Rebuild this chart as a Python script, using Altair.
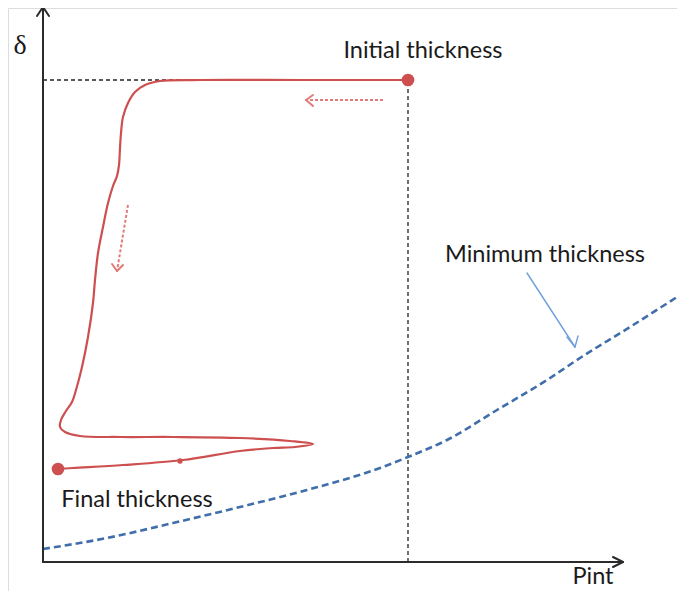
import altair as alt
import pandas as pd

# ---- data (units: δ vs Pint, arbitrary) ----
red_x = [365, 257, 157, 117, 102, 92, 85, 80, 78, 77, 76, 74, 70, 65, 60, 55, 52, 50, 45, 39, 33, 29, 23, 18, 17, 22, 37, 77, 130, 197, 247, 270, 252, 230, 197, 140, 80, 30, 15]
red_y = [482, 482, 482, 481, 477, 470, 459, 445, 429, 414, 397, 386, 376, 359, 335, 309, 282, 259, 225, 195, 172, 160, 151, 142, 135, 130, 126, 125, 125, 124, 121, 118, 115, 114, 111, 102, 97, 94, 93]

min_x = [0, 64, 130, 197, 264, 337, 365, 404, 454, 504, 537, 587, 634]
min_y = [13, 24, 39, 55, 72, 94, 105, 122, 152, 182, 204, 235, 265]

init_pt = (365, 482)
final_pt = (15, 93)

label_text = ["Initial thickness", "Final thickness", "Minimum thickness"]
label_x = [380, 94, 502]
label_y = [504, 55, 300]

XMIN, XMAX = -35, 634
YMIN, YMAX = -29, 554
W, H = XMAX - XMIN, YMAX - YMIN

xs = alt.Scale(domain=[XMIN, XMAX], nice=False, zero=False)
ys = alt.Scale(domain=[YMIN, YMAX], nice=False, zero=False)


def segs(rows):
    return pd.DataFrame(rows, columns=["x", "y", "x2", "y2"])


def rule_layer(df, color, width, dash=None):
    kw = dict(color=color, strokeWidth=width, strokeCap="round")
    if dash:
        kw["strokeDash"] = dash
        kw["strokeCap"] = "butt"
    return alt.Chart(df).mark_rule(**kw).encode(
        x=alt.X("x:Q", scale=xs, axis=None),
        y=alt.Y("y:Q", scale=ys, axis=None),
        x2="x2:Q", y2="y2:Q")


# axes with arrowheads
axes = rule_layer(segs([
    [0, 0, 0, 555], [0, 0, 580, 0],
    [0, 555, -6, 546], [0, 555, 6, 546],
    [580, 0, 570, 5], [580, 0, 570, -5],
]), "#2b2b2b", 2)

# dashed reference lines
ref = rule_layer(segs([[0, init_pt[1], init_pt[0], init_pt[1]],
                       [init_pt[0], 0, init_pt[0], init_pt[1]]]), "#222222", 1.3, [4, 3])

# minimum thickness dashed curve
mdf = pd.DataFrame({"x": min_x, "y": min_y})
minline = alt.Chart(mdf).mark_line(color="#3f6eab", strokeWidth=2.6, strokeDash=[7, 4],
                                   interpolate="monotone", clip=True).encode(
    x=alt.X("x:Q", scale=xs, axis=None), y=alt.Y("y:Q", scale=ys, axis=None))

# red trajectory
rdf = pd.DataFrame({"x": red_x, "y": red_y, "o": list(range(len(red_x)))})
redline = alt.Chart(rdf).mark_line(color="#cd4f4f", strokeWidth=2.2,
                                   interpolate="catmull-rom").encode(
    x=alt.X("x:Q", scale=xs, axis=None), y=alt.Y("y:Q", scale=ys, axis=None),
    order="o:Q")

dots = alt.Chart(pd.DataFrame({"x": [init_pt[0], final_pt[0]], "y": [init_pt[1], final_pt[1]]})).mark_circle(
    color="#cd4f4f", opacity=1, size=160).encode(
    x=alt.X("x:Q", scale=xs, axis=None), y=alt.Y("y:Q", scale=ys, axis=None))

blob = alt.Chart(pd.DataFrame({"x": [137], "y": [101]})).mark_circle(
    color="#cd4f4f", opacity=1, size=28).encode(
    x=alt.X("x:Q", scale=xs, axis=None), y=alt.Y("y:Q", scale=ys, axis=None))

# dashed red direction arrows
red_arr_lines = rule_layer(segs([[340, 462, 263, 462], [85, 357, 74, 291]]), "#e27a7a", 2, [3, 2])
red_arr_heads = rule_layer(segs([[263, 462, 270, 467], [263, 462, 270, 456],
                                 [74, 291, 69, 298], [74, 291, 80, 297]]), "#e27a7a", 2)

# blue arrow
blue_arr = rule_layer(segs([[484, 289, 532, 215], [532, 215, 524, 225], [532, 215, 535, 226]]),
                      "#6f9fdc", 1.4)

labels = alt.Chart(pd.DataFrame({"t": label_text, "x": label_x, "y": label_y})).mark_text(
    font="Lato", fontSize=23.5, color="#1a1a1a", align="center", baseline="alphabetic").encode(
    x=alt.X("x:Q", scale=xs, axis=None), y=alt.Y("y:Q", scale=ys, axis=None), text="t:N")

pint = alt.Chart(pd.DataFrame({"t": ["Pint"], "x": [550], "y": [-22]})).mark_text(
    font="Lato", fontSize=23.5, color="#1a1a1a", align="center", baseline="alphabetic").encode(
    x=alt.X("x:Q", scale=xs, axis=None), y=alt.Y("y:Q", scale=ys, axis=None), text="t:N")

delta = alt.Chart(pd.DataFrame({"t": ["δ"], "x": [-23], "y": [508]})).mark_text(
    font="Liberation Serif", fontSize=28, color="#1a1a1a", align="center", baseline="alphabetic").encode(
    x=alt.X("x:Q", scale=xs, axis=None), y=alt.Y("y:Q", scale=ys, axis=None), text="t:N")

chart = alt.layer(ref, minline, redline, dots, blob, red_arr_lines, red_arr_heads, blue_arr,
                  axes, labels, pint, delta).properties(
    width=W, height=H, padding=0, autosize=alt.AutoSizeParams(type="none")
).configure_view(stroke=None).configure(background="white")

chart.save("out.html", embed_options={"renderer": "svg", "actions": False})
